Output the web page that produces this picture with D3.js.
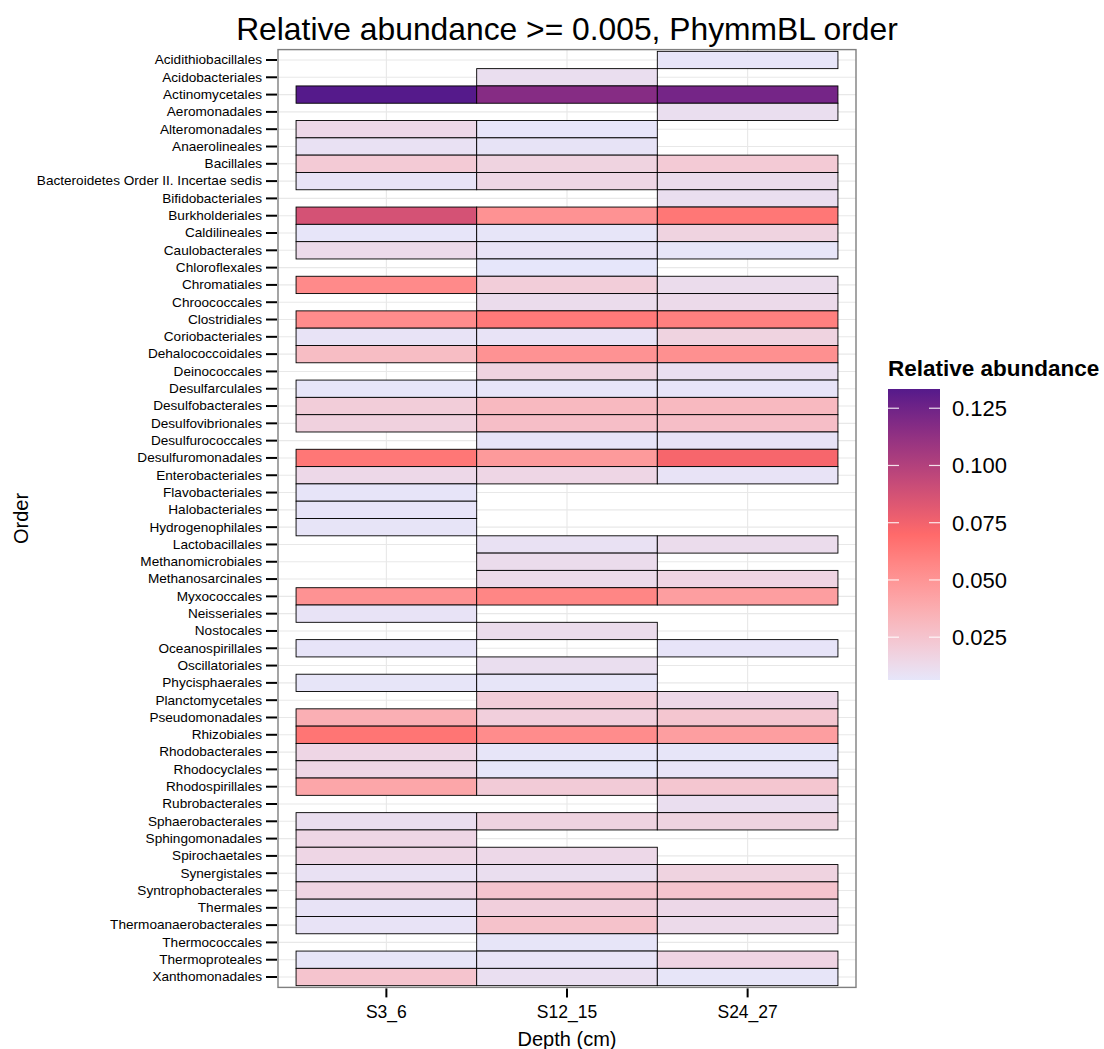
<!DOCTYPE html>
<html>
<head>
<meta charset="utf-8">
<script src="https://cdn.jsdelivr.net/npm/d3@7"></script>
<style>
  body { margin: 0; background: #fff; }
  text { font-family: "Liberation Sans", Arial, Helvetica, sans-serif; fill: #000; }
</style>
</head>
<body>
<svg id="chart" width="1104" height="1049"></svg>
<script>
// Taxonomic orders, top to bottom
const orders = [
  "Acidithiobacillales", "Acidobacteriales", "Actinomycetales", "Aeromonadales",
  "Alteromonadales", "Anaerolineales", "Bacillales", "Bacteroidetes Order II. Incertae sedis",
  "Bifidobacteriales", "Burkholderiales", "Caldilineales", "Caulobacterales",
  "Chloroflexales", "Chromatiales", "Chroococcales", "Clostridiales",
  "Coriobacteriales", "Dehalococcoidales", "Deinococcales", "Desulfarculales",
  "Desulfobacterales", "Desulfovibrionales", "Desulfurococcales", "Desulfuromonadales",
  "Enterobacteriales", "Flavobacteriales", "Halobacteriales", "Hydrogenophilales",
  "Lactobacillales", "Methanomicrobiales", "Methanosarcinales", "Myxococcales",
  "Neisseriales", "Nostocales", "Oceanospirillales", "Oscillatoriales",
  "Phycisphaerales", "Planctomycetales", "Pseudomonadales", "Rhizobiales",
  "Rhodobacterales", "Rhodocyclales", "Rhodospirillales", "Rubrobacterales",
  "Sphaerobacterales", "Sphingomonadales", "Spirochaetales", "Synergistales",
  "Syntrophobacterales", "Thermales", "Thermoanaerobacterales", "Thermococcales",
  "Thermoproteales", "Xanthomonadales"
];

// Depth samples
const depths = ["S3_6", "S12_15", "S24_27"];

// Relative abundance per order (null = below 0.005, not shown)
const s3_6 = [
  null, null, 0.1334, null, 0.014, 0.009, 0.022, 0.008,
  null, 0.087, 0.0068, 0.013, null, 0.055, null, 0.054,
  0.008, 0.029, null, 0.007, 0.020, 0.018, null, 0.064,
  0.014, 0.0072, 0.0072, 0.0075, null, null, null, 0.051,
  0.008, null, 0.0072, null, 0.007, null, 0.036, 0.065,
  0.015, 0.015, 0.041, null, 0.011, 0.015, 0.015, 0.009,
  0.016, 0.008, 0.008, null, 0.007, 0.025
];
const s12_15 = [
  null, 0.011, 0.117, null, 0.0068, 0.0078, 0.017, 0.015,
  null, 0.051, 0.007, 0.008, 0.0063, 0.020, 0.012, 0.063,
  0.008, 0.051, 0.017, 0.007, 0.031, 0.028, 0.0075, 0.047,
  0.015, null, null, null, 0.009, 0.012, 0.013, 0.057,
  null, 0.012, null, 0.011, 0.007, 0.020, 0.019, 0.054,
  0.007, 0.0064, 0.021, null, 0.017, null, 0.014, 0.011,
  0.025, 0.019, 0.026, 0.007, 0.008, 0.010
];
const s24_27 = [
  0.007, null, 0.123, 0.011, null, null, 0.022, 0.012,
  0.011, 0.064, 0.017, 0.007, null, 0.012, 0.013, 0.060,
  0.017, 0.052, 0.010, 0.0072, 0.031, 0.028, 0.008, 0.073,
  0.008, null, null, null, 0.012, null, 0.016, 0.045,
  null, null, 0.0072, null, null, 0.014, 0.024, 0.045,
  0.007, 0.008, 0.024, 0.011, 0.017, null, null, 0.017,
  0.025, 0.014, 0.013, null, 0.016, 0.007
];

// Colour bar tick values
const legendTicks = [0.025, 0.050, 0.075, 0.100, 0.125];

const series = [s3_6, s12_15, s24_27];
const cells = [];
depths.forEach((d, j) => {
  series[j].forEach((v, i) => {
    if (v != null) cells.push({ order: orders[i], depth: d, value: v });
  });
});

const svg = d3.select("#chart");
const panel = { left: 278, right: 856, top: 49.6, bottom: 987.4 };

const x = d3.scaleBand().domain(depths)
  .range([panel.left, panel.right]).paddingInner(0).paddingOuter(0.1);
const y = d3.scaleBand().domain(orders)
  .range([panel.top, panel.bottom]).paddingInner(0).paddingOuter(0.1);

const [vmin, vmax] = d3.extent(cells, c => c.value);
const color = d3.scaleLinear()
  .domain([vmin, (vmin + vmax) / 2, vmax])
  .range(["#E6E6FA", "#FF6A6A", "#551A8B"])
  .interpolate(d3.interpolateLab);

// Panel background and grid
svg.append("rect")
  .attr("x", panel.left).attr("y", panel.top)
  .attr("width", panel.right - panel.left).attr("height", panel.bottom - panel.top)
  .attr("fill", "#fff");

const grid = svg.append("g").attr("stroke", "#E8E8E8").attr("stroke-width", 1.1);
grid.selectAll("line.h").data(orders).join("line")
  .attr("x1", panel.left).attr("x2", panel.right)
  .attr("y1", d => y(d) + y.bandwidth() / 2).attr("y2", d => y(d) + y.bandwidth() / 2);
grid.selectAll("line.v").data(depths).join("line")
  .attr("y1", panel.top).attr("y2", panel.bottom)
  .attr("x1", d => x(d) + x.bandwidth() / 2).attr("x2", d => x(d) + x.bandwidth() / 2);

// Tiles
svg.append("g").selectAll("rect").data(cells).join("rect")
  .attr("x", d => x(d.depth)).attr("y", d => y(d.order))
  .attr("width", x.bandwidth()).attr("height", y.bandwidth())
  .attr("fill", d => color(d.value))
  .attr("stroke", "#000").attr("stroke-width", 0.9);

// Panel border
svg.append("rect")
  .attr("x", panel.left).attr("y", panel.top)
  .attr("width", panel.right - panel.left).attr("height", panel.bottom - panel.top)
  .attr("fill", "none").attr("stroke", "#7F7F7F").attr("stroke-width", 1.4);

// Axes
const yAxis = svg.append("g")
  .attr("transform", `translate(${panel.left - 1},0)`)
  .call(d3.axisLeft(y).tickSize(11).tickPadding(4));
yAxis.select(".domain").remove();
yAxis.selectAll(".tick line").attr("stroke", "#000").attr("stroke-width", 2);
yAxis.selectAll(".tick text").attr("font-size", 13.6).attr("fill", "#000")
  .attr("font-family", '"Liberation Sans", Arial, sans-serif');

const xAxis = svg.append("g")
  .attr("transform", `translate(0,${panel.bottom + 1})`)
  .call(d3.axisBottom(x).tickSize(9).tickPadding(8));
xAxis.select(".domain").remove();
xAxis.selectAll(".tick line").attr("stroke", "#000").attr("stroke-width", 2);
xAxis.selectAll(".tick text").attr("font-size", 17.5).attr("fill", "#000")
  .attr("font-family", '"Liberation Sans", Arial, sans-serif');

// Titles
svg.append("text")
  .attr("x", (panel.left + panel.right) / 2).attr("y", 40)
  .attr("text-anchor", "middle").attr("font-size", 31.8)
  .text("Relative abundance >= 0.005, PhymmBL order");

svg.append("text")
  .attr("x", (panel.left + panel.right) / 2).attr("y", 1046)
  .attr("text-anchor", "middle").attr("font-size", 20)
  .text("Depth (cm)");

svg.append("text")
  .attr("transform", `translate(28,${(panel.top + panel.bottom) / 2}) rotate(-90)`)
  .attr("text-anchor", "middle").attr("font-size", 20)
  .text("Order");

// Colour bar legend
const bar = { x: 888, y: 389, w: 52, h: 291 };
const legendScale = d3.scaleLinear().domain([vmin, vmax]).range([bar.y + bar.h, bar.y]);

const defs = svg.append("defs");
const grad = defs.append("linearGradient").attr("id", "abundanceGrad")
  .attr("x1", 0).attr("y1", 1).attr("x2", 0).attr("y2", 0);
d3.range(0, 1.0001, 0.05).forEach(t => {
  grad.append("stop").attr("offset", t)
    .attr("stop-color", color(vmin + t * (vmax - vmin)));
});

svg.append("text")
  .attr("x", bar.x).attr("y", 376)
  .attr("font-size", 22.5).attr("font-weight", "bold")
  .text("Relative abundance");

svg.append("rect")
  .attr("x", bar.x).attr("y", bar.y).attr("width", bar.w).attr("height", bar.h)
  .attr("fill", "url(#abundanceGrad)");

const lt = svg.append("g");
lt.selectAll("line.l").data(legendTicks).join("line")
  .attr("x1", bar.x).attr("x2", bar.x + 11)
  .attr("y1", d => legendScale(d)).attr("y2", d => legendScale(d))
  .attr("stroke", "#fff").attr("stroke-width", 1.2).attr("stroke-opacity", 0.85);
lt.selectAll("line.r").data(legendTicks).join("line")
  .attr("x1", bar.x + bar.w - 11).attr("x2", bar.x + bar.w)
  .attr("y1", d => legendScale(d)).attr("y2", d => legendScale(d))
  .attr("stroke", "#fff").attr("stroke-width", 1.2).attr("stroke-opacity", 0.85);
lt.selectAll("text").data(legendTicks).join("text")
  .attr("x", bar.x + bar.w + 12).attr("y", d => legendScale(d))
  .attr("dy", "0.36em").attr("font-size", 22)
  .text(d => d3.format(".3f")(d));
</script>
</body>
</html>
